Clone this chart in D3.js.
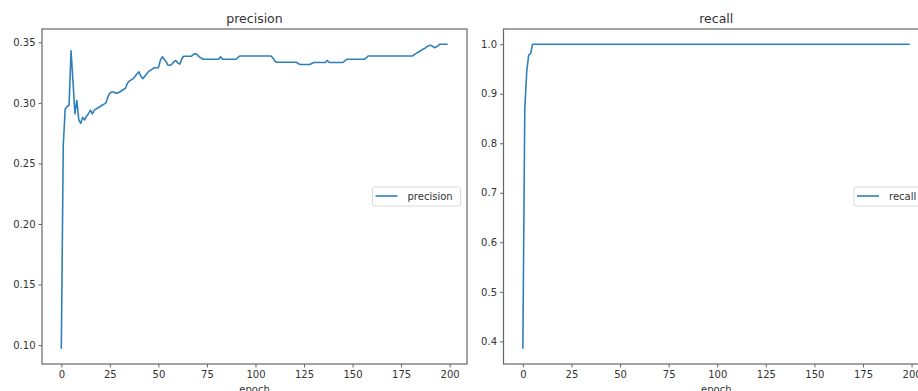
<!DOCTYPE html>
<html>
<head>
<meta charset="utf-8">
<script src="https://cdnjs.cloudflare.com/ajax/libs/d3/7.8.5/d3.min.js"></script>
<style>
  html, body { margin: 0; padding: 0; background: #fff; }
  svg { display: block; font-family: "DejaVu Sans", sans-serif; }
</style>
</head>
<body>
<figure id="chart" style="margin:0"></figure>
<script>
// epochs 0..199
const epochs = d3.range(200);

// precision por epoch
const precision = [
  0.097, 0.265, 0.295, 0.297, 0.298, 0.343, 0.318, 0.291, 0.302, 0.286,
  0.283, 0.288, 0.286, 0.289, 0.291, 0.294, 0.291, 0.294, 0.295, 0.296,
  0.297, 0.298, 0.299, 0.300, 0.305, 0.308, 0.309, 0.309, 0.308, 0.308,
  0.309, 0.310, 0.311, 0.312, 0.316, 0.318, 0.319, 0.320, 0.322, 0.324,
  0.3256, 0.322, 0.320, 0.322, 0.324, 0.326, 0.327, 0.328, 0.329, 0.329,
  0.329, 0.335, 0.338, 0.336, 0.334, 0.331, 0.331, 0.332, 0.334, 0.335,
  0.333, 0.332, 0.336, 0.3385, 0.3385, 0.3385, 0.3385, 0.3385, 0.340, 0.3407,
  0.340, 0.338, 0.337, 0.336, 0.336, 0.336, 0.336, 0.336, 0.336, 0.336,
  0.336, 0.336, 0.338, 0.336, 0.336, 0.336, 0.336, 0.336, 0.336, 0.336,
  0.336, 0.3375, 0.3387, 0.3387, 0.3387, 0.3387, 0.3387, 0.3387, 0.3387, 0.3387,
  0.3387, 0.3387, 0.3387, 0.3387, 0.3387, 0.3387, 0.3387, 0.3387, 0.3387, 0.337,
  0.3345, 0.3335, 0.3335, 0.3335, 0.3335, 0.3335, 0.3335, 0.3335, 0.3335, 0.3335,
  0.3335, 0.3335, 0.3325, 0.3317, 0.3317, 0.3317, 0.3317, 0.3317, 0.3317, 0.3325,
  0.3333, 0.3333, 0.3333, 0.3333, 0.3333, 0.3333, 0.3333, 0.335, 0.3333, 0.3333,
  0.3333, 0.3333, 0.3333, 0.3333, 0.3333, 0.3333, 0.3347, 0.336, 0.336, 0.336,
  0.336, 0.336, 0.336, 0.336, 0.336, 0.336, 0.336, 0.337, 0.3387, 0.3387,
  0.3387, 0.3387, 0.3387, 0.3387, 0.3387, 0.3387, 0.3387, 0.3387, 0.3387, 0.3387,
  0.3387, 0.3387, 0.3387, 0.3387, 0.3387, 0.3387, 0.3387, 0.3387, 0.3387, 0.3387,
  0.3387, 0.3387, 0.340, 0.341, 0.342, 0.343, 0.344, 0.3448, 0.346, 0.347,
  0.3475, 0.347, 0.3456, 0.346, 0.347, 0.3484, 0.3484, 0.3484, 0.3484, 0.3484
];

// recall por epoch
const recall = [
  0.385, 0.87, 0.945, 0.978, 0.981, 1.0, 1.0, 1.0, 1.0, 1.0,
  1.0, 1.0, 1.0, 1.0, 1.0, 1.0, 1.0, 1.0, 1.0, 1.0,
  1.0, 1.0, 1.0, 1.0, 1.0, 1.0, 1.0, 1.0, 1.0, 1.0,
  1.0, 1.0, 1.0, 1.0, 1.0, 1.0, 1.0, 1.0, 1.0, 1.0,
  1.0, 1.0, 1.0, 1.0, 1.0, 1.0, 1.0, 1.0, 1.0, 1.0,
  1.0, 1.0, 1.0, 1.0, 1.0, 1.0, 1.0, 1.0, 1.0, 1.0,
  1.0, 1.0, 1.0, 1.0, 1.0, 1.0, 1.0, 1.0, 1.0, 1.0,
  1.0, 1.0, 1.0, 1.0, 1.0, 1.0, 1.0, 1.0, 1.0, 1.0,
  1.0, 1.0, 1.0, 1.0, 1.0, 1.0, 1.0, 1.0, 1.0, 1.0,
  1.0, 1.0, 1.0, 1.0, 1.0, 1.0, 1.0, 1.0, 1.0, 1.0,
  1.0, 1.0, 1.0, 1.0, 1.0, 1.0, 1.0, 1.0, 1.0, 1.0,
  1.0, 1.0, 1.0, 1.0, 1.0, 1.0, 1.0, 1.0, 1.0, 1.0,
  1.0, 1.0, 1.0, 1.0, 1.0, 1.0, 1.0, 1.0, 1.0, 1.0,
  1.0, 1.0, 1.0, 1.0, 1.0, 1.0, 1.0, 1.0, 1.0, 1.0,
  1.0, 1.0, 1.0, 1.0, 1.0, 1.0, 1.0, 1.0, 1.0, 1.0,
  1.0, 1.0, 1.0, 1.0, 1.0, 1.0, 1.0, 1.0, 1.0, 1.0,
  1.0, 1.0, 1.0, 1.0, 1.0, 1.0, 1.0, 1.0, 1.0, 1.0,
  1.0, 1.0, 1.0, 1.0, 1.0, 1.0, 1.0, 1.0, 1.0, 1.0,
  1.0, 1.0, 1.0, 1.0, 1.0, 1.0, 1.0, 1.0, 1.0, 1.0,
  1.0, 1.0, 1.0, 1.0, 1.0, 1.0, 1.0, 1.0, 1.0, 1.0
];

const xTicks = [0, 25, 50, 75, 100, 125, 150, 175, 200];
const precisionTicks = [0.10, 0.15, 0.20, 0.25, 0.30, 0.35];
const recallTicks = [0.4, 0.5, 0.6, 0.7, 0.8, 0.9, 1.0];

const width = 918, height = 391;
const lineColor = '#2f80ba';

const svg = d3.select('figure#chart')
  .append('svg')
  .attr('width', width)
  .attr('height', height);

// dibuja un panel (estilo matplotlib)
function drawPanel(opts) {
  const { left, right, top, bottom, values, yTicks, yFmt, title, legendX } = opts;

  const x = d3.scaleLinear()
    .domain([-9.95, 208.95])
    .range([left, right]);

  // 5% de margen como matplotlib
  const ext = d3.extent(values);
  const pad = (ext[1] - ext[0]) * 0.05;
  const y = d3.scaleLinear()
    .domain([ext[0] - pad, ext[1] + pad])
    .range([bottom, top]);

  const g = svg.append('g');

  // eje x
  const xAxis = g.append('g')
    .attr('transform', 'translate(0,' + bottom + ')')
    .call(d3.axisBottom(x).tickValues(xTicks).tickSize(3.5).tickPadding(3).tickFormat(d3.format('d')));
  xAxis.select('.domain').remove();

  // eje y
  const yAxis = g.append('g')
    .attr('transform', 'translate(' + left + ',0)')
    .call(d3.axisLeft(y).tickValues(yTicks).tickSize(3.5).tickPadding(3).tickFormat(d3.format(yFmt)));
  yAxis.select('.domain').remove();

  g.selectAll('.tick line').attr('stroke', '#555').attr('stroke-width', 0.9);
  g.selectAll('.tick text')
    .attr('fill', '#333')
    .style('font-size', '10px')
    .style('font-family', '"DejaVu Sans", sans-serif');

  // linea de datos
  const line = d3.line()
    .x((d, i) => x(epochs[i]))
    .y(d => y(d));

  g.append('path')
    .datum(values)
    .attr('fill', 'none')
    .attr('stroke', lineColor)
    .attr('stroke-width', 1.6)
    .attr('stroke-linejoin', 'round')
    .attr('d', line);

  // marco
  g.append('rect')
    .attr('x', left)
    .attr('y', top)
    .attr('width', right - left)
    .attr('height', bottom - top)
    .attr('fill', 'none')
    .attr('stroke', '#666')
    .attr('stroke-width', 1.2);

  // titulo
  g.append('text')
    .attr('x', (left + right) / 2)
    .attr('y', top - 6)
    .attr('text-anchor', 'middle')
    .attr('fill', '#333')
    .style('font-size', '12.5px')
    .text(title);

  // etiqueta eje x
  g.append('text')
    .attr('x', (left + right) / 2)
    .attr('y', bottom + 29)
    .attr('text-anchor', 'middle')
    .attr('fill', '#333')
    .style('font-size', '10px')
    .text('epoch');

  // leyenda
  const lg = g.append('g').attr('transform', 'translate(' + legendX + ',187)');
  lg.append('rect')
    .attr('width', 88)
    .attr('height', 19)
    .attr('rx', 2)
    .attr('fill', '#fff')
    .attr('stroke', '#d6d6d6')
    .attr('stroke-width', 0.9);
  lg.append('line')
    .attr('x1', 3).attr('x2', 25)
    .attr('y1', 9).attr('y2', 9)
    .attr('stroke', lineColor)
    .attr('stroke-width', 1.6);
  lg.append('text')
    .attr('x', 35)
    .attr('y', 13)
    .attr('fill', '#333')
    .style('font-size', '10px')
    .text(title);
}

drawPanel({
  left: 42, right: 467, top: 29, bottom: 364,
  values: precision, yTicks: precisionTicks, yFmt: '.2f',
  title: 'precision', legendX: 372.5
});

drawPanel({
  left: 503.5, right: 929, top: 29, bottom: 364,
  values: recall, yTicks: recallTicks, yFmt: '.1f',
  title: 'recall', legendX: 854
});
</script>
</body>
</html>
